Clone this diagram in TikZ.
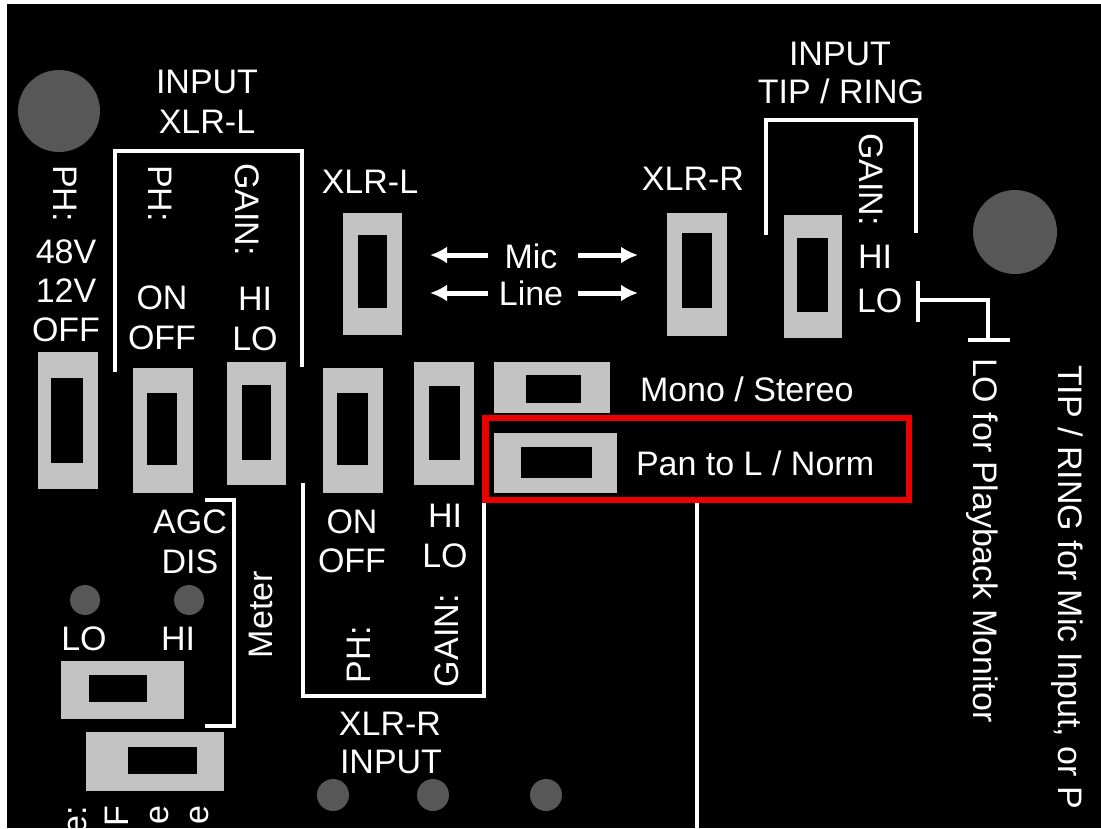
\documentclass[tikz,border=0pt]{standalone}
\usepackage{fontspec}
\setmainfont{Liberation Sans}
\usetikzlibrary{arrows.meta}
\definecolor{swgrey}{RGB}{195,195,195}
\definecolor{knob}{RGB}{87,87,87}
\definecolor{panelred}{RGB}{235,0,0}
\newcommand\panelfont{\fontsize{34}{40}\selectfont}
\newcommand\panelswitch[8]{\fill[swgrey] (#1,#2) rectangle (#3,#4); \fill[black] (#5,#6) rectangle (#7,#8);}
\begin{document}
\begin{tikzpicture}[x=1pt,y=-1pt,
  lbl/.style={font=\panelfont, text=white, inner sep=0pt, outer sep=0pt},
  wline/.style={draw=white, line width=4.5pt},
  arr/.style={draw=white, line width=5pt, -{Latex[length=17pt,width=17pt]}},
]
\path[use as bounding box] (0,0) rectangle (1101,828);
\clip (0,0) rectangle (1101,828);
\fill[black] (0,0) rectangle (1101,828);
\fill[white] (0,0) rectangle (7,828);
\fill[white] (0,0) rectangle (1101,4);

% knobs and LEDs
\fill[knob] (59,111) circle[radius=41];
\fill[knob] (1015,232) circle[radius=42];
\fill[knob] (85,600) circle[radius=15];
\fill[knob] (189,600) circle[radius=15];
\fill[knob] (333,795) circle[radius=16];
\fill[knob] (433,795) circle[radius=16];
\fill[knob] (546,795) circle[radius=16];

% switches
\panelswitch{38}{352}{98}{489}{51}{378}{83}{463}
\panelswitch{133}{368}{193}{493}{147}{393}{177}{465}
\panelswitch{227}{362}{286}{485}{242}{385}{271}{460}
\panelswitch{323}{368}{383}{493}{337}{393}{368}{465}
\panelswitch{414}{362}{474}{485}{429}{386}{460}{460}
\panelswitch{494}{362}{610}{413}{526}{375}{581}{403}
\panelswitch{494}{433}{617}{493}{521}{447}{592}{478}
\panelswitch{343}{213}{402}{335}{358}{235}{387}{308}
\panelswitch{667}{213}{727}{336}{682}{233}{712}{308}
\panelswitch{784}{215}{842}{338}{797}{238}{828}{312}
\panelswitch{61}{661}{184}{719}{89}{675}{147}{702}
\panelswitch{86}{732}{224}{791}{128}{747}{197}{774}

% brackets
\draw[wline] (115,372) -- (115,151) -- (302,151) -- (302,367);
\draw[wline] (205,500) -- (234,500) -- (234,726) -- (205,726);
\draw[wline] (303,483) -- (303,696) -- (484,696) -- (484,503);
\draw[wline] (766,235) -- (766,120) -- (916,120) -- (916,233);
\draw[wline] (918,281) -- (918,322);
\draw[wline] (918,300) -- (988,300) -- (988,340);
\draw[wline] (968,340) -- (1010,340);
\draw[wline] (697,503) -- (697,828);

% red frame
\draw[panelred, line width=6.5pt] (485.5,418) rectangle (909,500);

% labels
\node[lbl, anchor=base] (inl1) at (207,93) {INPUT};
\node[lbl, anchor=base] (inl2) at (207,133) {XLR-L};
\node[lbl, anchor=base west, rotate=-90] (ph1) at (53,165) {PH:};
\node[lbl, anchor=base] (v48) at (66,263) {48V};
\node[lbl, anchor=base] (v12) at (66,302) {12V};
\node[lbl, anchor=base] (voff) at (66,341) {OFF};
\node[lbl, anchor=base west, rotate=-90] (ph2) at (148,165) {PH:};
\node[lbl, anchor=base west, rotate=-90] (gain1) at (235,163) {GAIN:};
\node[lbl, anchor=base] (on1) at (162,309) {ON};
\node[lbl, anchor=base] (off1) at (162,349) {OFF};
\node[lbl, anchor=base] (hi1) at (255,310) {HI};
\node[lbl, anchor=base] (lo1) at (255,350) {LO};

\node[lbl, anchor=base] (xlrl) at (370,193) {XLR-L};
\node[lbl, anchor=base] (mic) at (531,268) {Mic};
\node[lbl, anchor=base] (line) at (531,305) {Line};
\node[lbl, anchor=base] (xlrr) at (693,190) {XLR-R};
\coordinate (mA) at (488,255); \coordinate (mB) at (430,255);
\coordinate (mC) at (578,255); \coordinate (mD) at (638,255);
\coordinate (lA) at (488,293); \coordinate (lB) at (430,293);
\coordinate (lC) at (578,293); \coordinate (lD) at (638,293);
\draw[arr] (mA) -- (mB);
\draw[arr] (mC) -- (mD);
\draw[arr] (lA) -- (lB);
\draw[arr] (lC) -- (lD);

\node[lbl, anchor=base] (intr1) at (840,65) {INPUT};
\node[lbl, anchor=base] (intr2) at (841,103) {TIP / RING};
\node[lbl, anchor=base west, rotate=-90] (gain3) at (859,133) {GAIN:};
\node[lbl, anchor=base west] (hi3) at (858,268) {HI};
\node[lbl, anchor=base west] (lo3) at (857,312) {LO};
\node[lbl, anchor=base west, rotate=-90] (lopb) at (973,358) {LO for Playback Monitor};
\node[lbl, anchor=base west, rotate=-90] (tipr) at (1058,365) {TIP / RING for Mic Input, or P};

\node[lbl, anchor=base west] (mono) at (640,401) {Mono / Stereo};
\node[lbl, anchor=base west] (pan) at (636,475) {Pan to L / Norm};

\node[lbl, anchor=base] (agc) at (190,533) {AGC};
\node[lbl, anchor=base] (dis) at (190,573) {DIS};
\node[lbl, anchor=base] (lo2) at (84,650) {LO};
\node[lbl, anchor=base] (hi2) at (178,650) {HI};
\node[lbl, anchor=base west, rotate=90] (meter) at (272,658) {Meter};

\node[lbl, anchor=base] (on2) at (352,533) {ON};
\node[lbl, anchor=base] (off2) at (352,572) {OFF};
\node[lbl, anchor=base] (hi4) at (445,527) {HI};
\node[lbl, anchor=base] (lo4) at (445,567) {LO};
\node[lbl, anchor=base west, rotate=90] (ph3) at (370,683) {PH:};
\node[lbl, anchor=base west, rotate=90] (gain4) at (458,687) {GAIN:};
\node[lbl, anchor=base] (xlrr2) at (390,735) {XLR-R};
\node[lbl, anchor=base] (inr2) at (391,773) {INPUT};

% clipped labels at the bottom edge
\node[lbl, anchor=base east, rotate=90] (bt1) at (86,806) {e:};
\node[lbl, anchor=base east, rotate=90] (bt2) at (128,806) {F};
\node[lbl, anchor=base east, rotate=90] (bt3) at (168,806) {e};
\node[lbl, anchor=base east, rotate=90] (bt4) at (208,806) {e};
\end{tikzpicture}
\end{document}
